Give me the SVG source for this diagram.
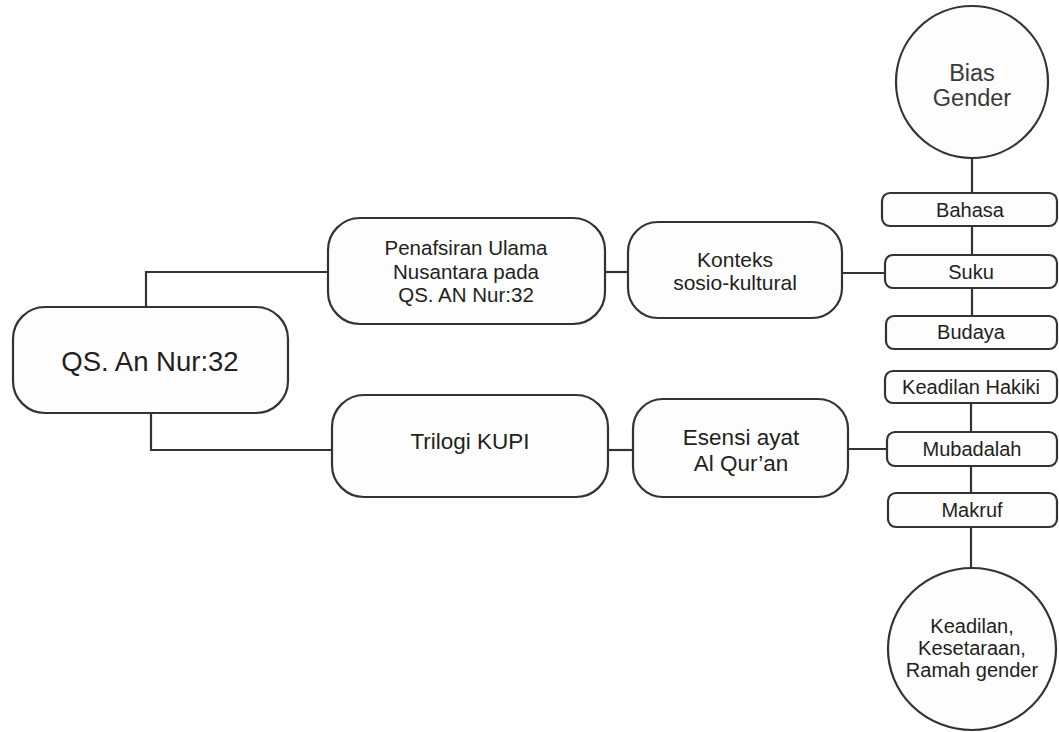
<svg xmlns="http://www.w3.org/2000/svg" width="1059" height="732" viewBox="0 0 1059 732">
<style>
.box{fill:#fdfdfd;stroke:#333;stroke-width:2.2}
.ln{fill:none;stroke:#333;stroke-width:2.2}
text{font-family:"Liberation Sans",Arial,sans-serif;fill:#231f20;text-anchor:middle}
.c{fill:#3a3a3a}
</style>
<rect width="1059" height="732" fill="#fff"/>
<g id="connectors">
<path class="ln" d="M146 307 V272 H328"/>
<path class="ln" d="M151 413 V450 H332"/>
<path class="ln" d="M605 272 H628"/>
<path class="ln" d="M608 450 H633"/>
<path class="ln" d="M842 273 H885"/>
<path class="ln" d="M848 449 H887"/>
<path class="ln" d="M972 158 V193 M972 226 V255 M972 288 V316"/>
<path class="ln" d="M971 403 V432 M971 466 V493 M971 527 V568"/>
</g>
<g id="root">
<rect class="box" x="13" y="307" width="275" height="106" rx="32"/>
<text x="150" y="371" font-size="27.5">QS. An Nur:32</text>
</g>
<g id="penafsiran">
<rect class="box" x="328" y="218" width="277" height="106" rx="32"/>
<text x="466" y="255" font-size="20.5">Penafsiran Ulama</text>
<text x="466" y="278.5" font-size="20.5">Nusantara pada</text>
<text x="466" y="302" font-size="20.5">QS. AN Nur:32</text>
</g>
<g id="trilogi">
<rect class="box" x="332" y="395" width="276" height="102" rx="32"/>
<text x="470" y="449" font-size="22.5">Trilogi KUPI</text>
</g>
<g id="konteks">
<rect class="box" x="628" y="222" width="214" height="96" rx="30"/>
<text x="735" y="267" font-size="21">Konteks</text>
<text x="735" y="290" font-size="21">sosio-kultural</text>
</g>
<g id="esensi">
<rect class="box" x="633" y="399" width="215" height="98" rx="30"/>
<text x="741" y="445" font-size="22.5">Esensi ayat</text>
<text x="741" y="471" font-size="22.5">Al Qur’an</text>
</g>
<g id="bias-gender">
<circle class="box" cx="972" cy="82" r="76"/>
<text class="c" x="972" y="81" font-size="23.5">Bias</text>
<text class="c" x="972" y="106" font-size="23.5">Gender</text>
</g>
<g id="bahasa">
<rect class="box" x="882" y="193" width="175" height="33" rx="8"/>
<text x="970" y="217" font-size="20">Bahasa</text>
</g>
<g id="suku">
<rect class="box" x="885" y="255" width="172" height="33" rx="8"/>
<text x="971" y="279" font-size="20">Suku</text>
</g>
<g id="budaya">
<rect class="box" x="886" y="316" width="171" height="33" rx="8"/>
<text x="971" y="339" font-size="20">Budaya</text>
</g>
<g id="keadilan-hakiki">
<rect class="box" x="885" y="371" width="172" height="32" rx="8"/>
<text x="971" y="394" font-size="20">Keadilan Hakiki</text>
</g>
<g id="mubadalah">
<rect class="box" x="887" y="432" width="170" height="34" rx="8"/>
<text x="972" y="456" font-size="20">Mubadalah</text>
</g>
<g id="makruf">
<rect class="box" x="888" y="493" width="169" height="34" rx="8"/>
<text x="972" y="517" font-size="20">Makruf</text>
</g>
<g id="keadilan-kesetaraan">
<ellipse class="box" cx="972" cy="649" rx="84" ry="81"/>
<text x="972" y="633" font-size="20">Keadilan,</text>
<text x="972" y="655" font-size="20">Kesetaraan,</text>
<text x="972" y="677" font-size="20">Ramah gender</text>
</g>
</svg>
